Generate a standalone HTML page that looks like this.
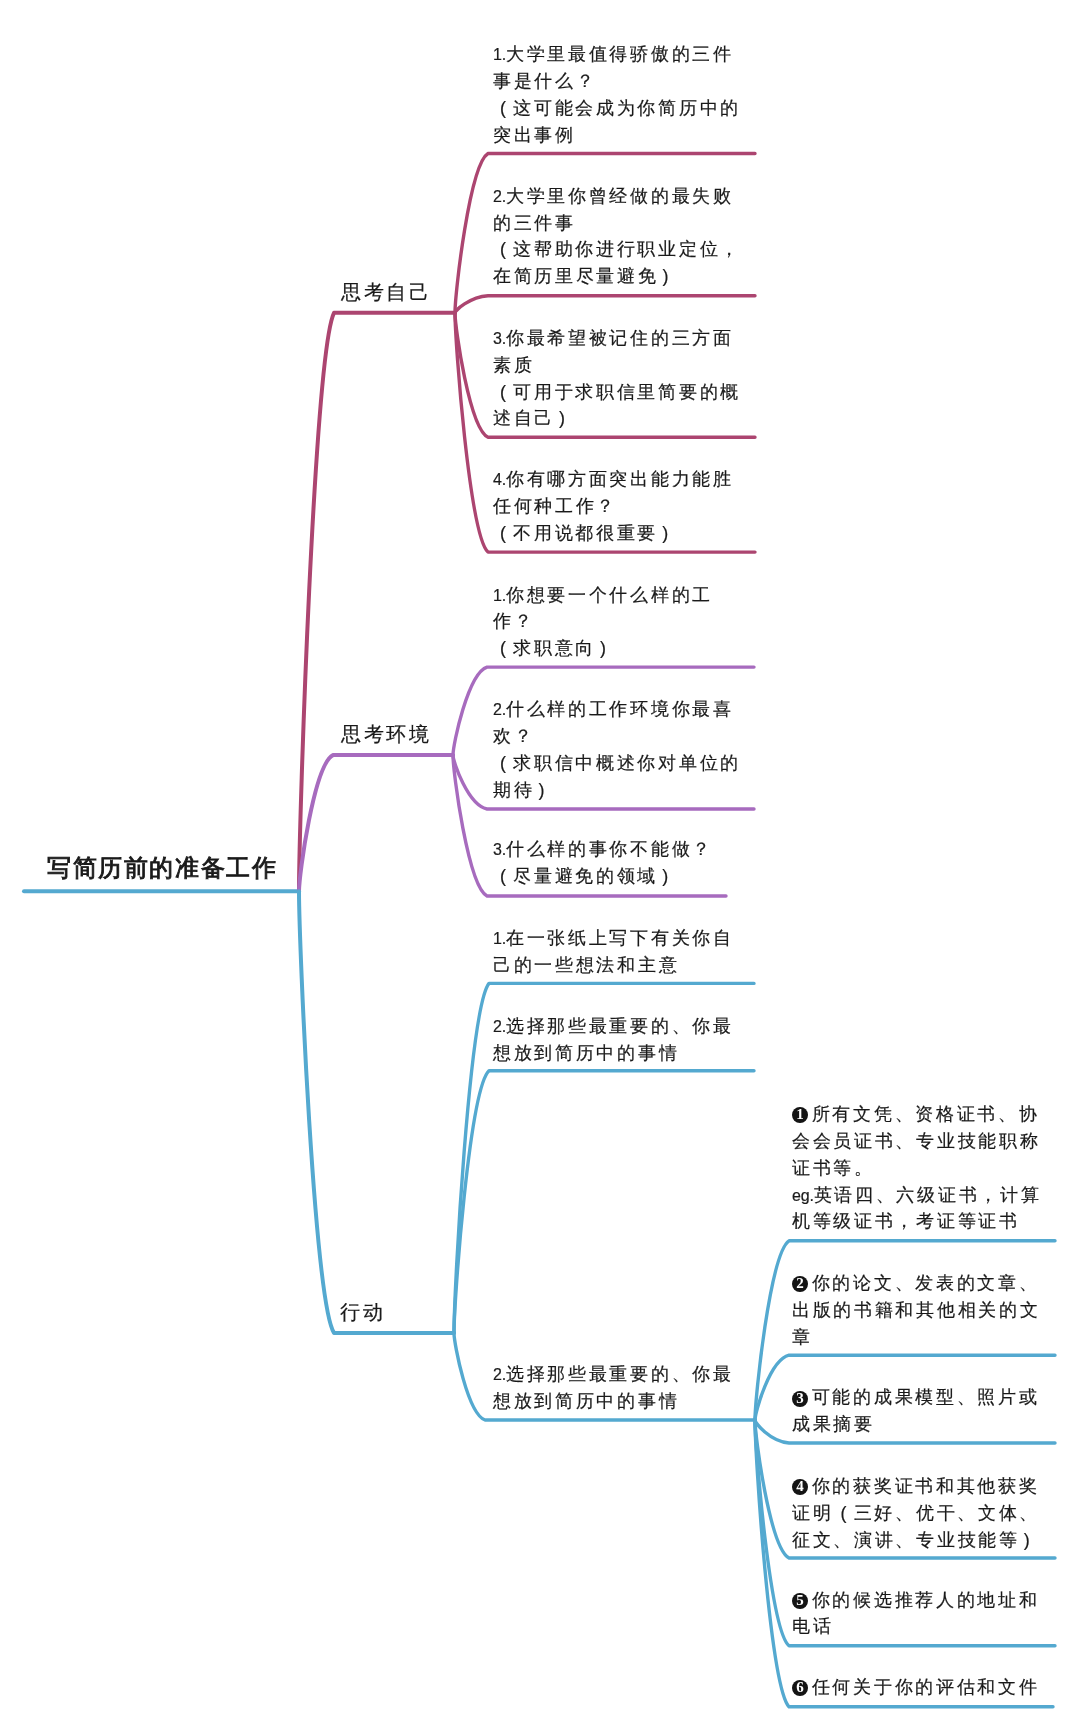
<!DOCTYPE html>
<html><head><meta charset="utf-8"><style>
html,body{margin:0;padding:0;background:#fff;}
body{width:1080px;height:1731px;position:relative;overflow:hidden;font-family:"Liberation Sans",sans-serif;color:#1a1a1a;}
svg{position:absolute;left:0;top:0;}
path{fill:none;stroke-width:3.4;stroke-linecap:round;stroke-linejoin:round;}
.t,.l,.h{position:absolute;white-space:nowrap;line-height:1;-webkit-text-stroke:0.2px #1a1a1a;}
.t{font-size:18px;letter-spacing:2.7px;font-weight:300;}
.l{font-size:20px;letter-spacing:2.6px;font-weight:300;}
.h{font-size:24px;letter-spacing:1.6px;font-weight:400;-webkit-text-stroke:0.9px #1a1a1a;}
.n{font-size:16px;letter-spacing:-0.2px;}
.po{display:inline-block;width:20.3px;padding-left:7px;box-sizing:border-box;letter-spacing:0;}
.pc{display:inline-block;width:20.3px;padding-left:4px;box-sizing:border-box;letter-spacing:0;}
.c{display:inline-block;position:relative;width:19.8px;height:16px;vertical-align:-2px;letter-spacing:0;}
.cd{position:absolute;left:0.2px;top:1.6px;width:15.8px;height:15.8px;border-radius:50%;background:#141414;color:#fff;-webkit-text-stroke:0;font-family:"Liberation Serif",serif;font-weight:700;font-size:15px;line-height:15.8px;text-align:center;}
.wrap{will-change:transform;position:absolute;left:0;top:0;width:1080px;height:1731px;}
</style></head><body>
<svg width="1080" height="1731" viewBox="0 0 1080 1731">
<path d="M24 891.3 L299 891.3" stroke="#54A9D0" style="stroke-width:4"/>
<path d="M299 891.3 C299.0 821.9 314.4 353.3 334 312.8 L455 312.8" stroke="#AC4570" style="stroke-width:4"/>
<path d="M299 891.3 C299.0 875.0 314.0 764.6 333 755.1 L453 755.1" stroke="#A76BBE" style="stroke-width:4"/>
<path d="M299 891.3 C299.0 944.3 314.4 1302.0 334 1332.9 L454 1332.9" stroke="#54A9D0" style="stroke-width:4"/>
<path d="M455 312.8 C455.0 293.7 469.5 164.7 488 153.5 L755 153.5" stroke="#AC4570"/>
<path d="M455 312.8 C455.0 310.7 469.5 296.9 488 295.7 L755 295.7" stroke="#AC4570"/>
<path d="M455 312.8 C455.0 327.7 469.5 428.5 488 437.2 L755 437.2" stroke="#AC4570"/>
<path d="M455 312.8 C455.0 341.5 469.5 535.3 488 552.1 L755 552.1" stroke="#AC4570"/>
<path d="M453 755.1 C453.0 744.5 468.0 673.3 487 667.1 L754 667.1" stroke="#A76BBE"/>
<path d="M453 755.1 C453.0 761.6 468.0 805.2 487 809 L754 809" stroke="#A76BBE"/>
<path d="M453 755.1 C453.0 772.0 468.0 886.1 487 896 L726 896" stroke="#A76BBE"/>
<path d="M454 1332.9 C454.0 1291.0 469.4 1007.9 489 983.4 L754 983.4" stroke="#54A9D0"/>
<path d="M454 1332.9 C454.0 1301.4 469.4 1089.1 489 1070.8 L754 1070.8" stroke="#54A9D0"/>
<path d="M454 1332.9 C454.0 1343.4 467.6 1413.9 485 1420 L753 1420" stroke="#54A9D0"/>
<path d="M755 1420 C755.0 1398.5 770.0 1253.3 789 1240.8 L1055 1240.8" stroke="#54A9D0"/>
<path d="M755 1420 C755.0 1412.2 770.0 1359.7 789 1355.2 L1055 1355.2" stroke="#54A9D0"/>
<path d="M755 1420 C755.0 1422.8 770.0 1441.4 789 1443 L1055 1443" stroke="#54A9D0"/>
<path d="M755 1420 C755.0 1436.6 770.0 1548.3 789 1558 L1055 1558" stroke="#54A9D0"/>
<path d="M755 1420 C755.0 1447.1 770.0 1630.0 789 1645.8 L1055 1645.8" stroke="#54A9D0"/>
<path d="M755 1420 C755.0 1454.4 770.0 1686.7 789 1706.8 L1053 1706.8" stroke="#54A9D0"/>
</svg>
<div class="wrap">
<div class="t" style="left:493px;top:45.2px"><span class="n">1.</span>大学里最值得骄傲的三件</div>
<div class="t" style="left:493px;top:72.1px">事是什么？</div>
<div class="t" style="left:493px;top:99.0px"><span class="po">(</span>这可能会成为你简历中的</div>
<div class="t" style="left:493px;top:125.9px">突出事例</div>
<div class="t" style="left:493px;top:186.6px"><span class="n">2.</span>大学里你曾经做的最失败</div>
<div class="t" style="left:493px;top:213.5px">的三件事</div>
<div class="t" style="left:493px;top:240.3px"><span class="po">(</span>这帮助你进行职业定位，</div>
<div class="t" style="left:493px;top:267.2px">在简历里尽量避免<span class="pc">)</span></div>
<div class="t" style="left:493px;top:328.7px"><span class="n">3.</span>你最希望被记住的三方面</div>
<div class="t" style="left:493px;top:355.6px">素质</div>
<div class="t" style="left:493px;top:382.5px"><span class="po">(</span>可用于求职信里简要的概</div>
<div class="t" style="left:493px;top:409.4px">述自己<span class="pc">)</span></div>
<div class="t" style="left:493px;top:470.0px"><span class="n">4.</span>你有哪方面突出能力能胜</div>
<div class="t" style="left:493px;top:496.9px">任何种工作？</div>
<div class="t" style="left:493px;top:523.8px"><span class="po">(</span>不用说都很重要<span class="pc">)</span></div>
<div class="t" style="left:493px;top:585.5px"><span class="n">1.</span>你想要一个什么样的工</div>
<div class="t" style="left:493px;top:612.4px">作？</div>
<div class="t" style="left:493px;top:639.3px"><span class="po">(</span>求职意向<span class="pc">)</span></div>
<div class="t" style="left:493px;top:700.0px"><span class="n">2.</span>什么样的工作环境你最喜</div>
<div class="t" style="left:493px;top:726.9px">欢？</div>
<div class="t" style="left:493px;top:753.8px"><span class="po">(</span>求职信中概述你对单位的</div>
<div class="t" style="left:493px;top:780.7px">期待<span class="pc">)</span></div>
<div class="t" style="left:493px;top:840.4px"><span class="n">3.</span>什么样的事你不能做？</div>
<div class="t" style="left:493px;top:867.3px"><span class="po">(</span>尽量避免的领域<span class="pc">)</span></div>
<div class="t" style="left:493px;top:929.4px"><span class="n">1.</span>在一张纸上写下有关你自</div>
<div class="t" style="left:493px;top:956.3px">己的一些想法和主意</div>
<div class="t" style="left:493px;top:1016.9px"><span class="n">2.</span>选择那些最重要的、你最</div>
<div class="t" style="left:493px;top:1043.9px">想放到简历中的事情</div>
<div class="t" style="left:493px;top:1365.2px"><span class="n">2.</span>选择那些最重要的、你最</div>
<div class="t" style="left:493px;top:1392.1px">想放到简历中的事情</div>
<div class="t" style="left:792px;top:1104.8px"><span class="c"><span class="cd">1</span></span>所有文凭、资格证书、协</div>
<div class="t" style="left:792px;top:1131.7px">会会员证书、专业技能职称</div>
<div class="t" style="left:792px;top:1158.6px">证书等。</div>
<div class="t" style="left:792px;top:1185.5px"><span class="n">eg.</span>英语四、六级证书，计算</div>
<div class="t" style="left:792px;top:1212.4px">机等级证书，考证等证书</div>
<div class="t" style="left:792px;top:1273.7px"><span class="c"><span class="cd">2</span></span>你的论文、发表的文章、</div>
<div class="t" style="left:792px;top:1300.6px">出版的书籍和其他相关的文</div>
<div class="t" style="left:792px;top:1327.5px">章</div>
<div class="t" style="left:792px;top:1388.2px"><span class="c"><span class="cd">3</span></span>可能的成果模型、照片或</div>
<div class="t" style="left:792px;top:1415.1px">成果摘要</div>
<div class="t" style="left:792px;top:1476.7px"><span class="c"><span class="cd">4</span></span>你的获奖证书和其他获奖</div>
<div class="t" style="left:792px;top:1503.6px">证明<span class="po">(</span>三好、优干、文体、</div>
<div class="t" style="left:792px;top:1530.5px">征文、演讲、专业技能等<span class="pc">)</span></div>
<div class="t" style="left:792px;top:1590.5px"><span class="c"><span class="cd">5</span></span>你的候选推荐人的地址和</div>
<div class="t" style="left:792px;top:1617.4px">电话</div>
<div class="t" style="left:792px;top:1677.9px"><span class="c"><span class="cd">6</span></span>任何关于你的评估和文件</div>
<div class="l" style="left:341px;top:282.0px">思考自己</div>
<div class="l" style="left:341px;top:724.0px">思考环境</div>
<div class="l" style="left:340px;top:1301.5px">行动</div>
<div class="h" style="left:47px;top:856.0px">写简历前的准备工作</div>
</div>
</body></html>
